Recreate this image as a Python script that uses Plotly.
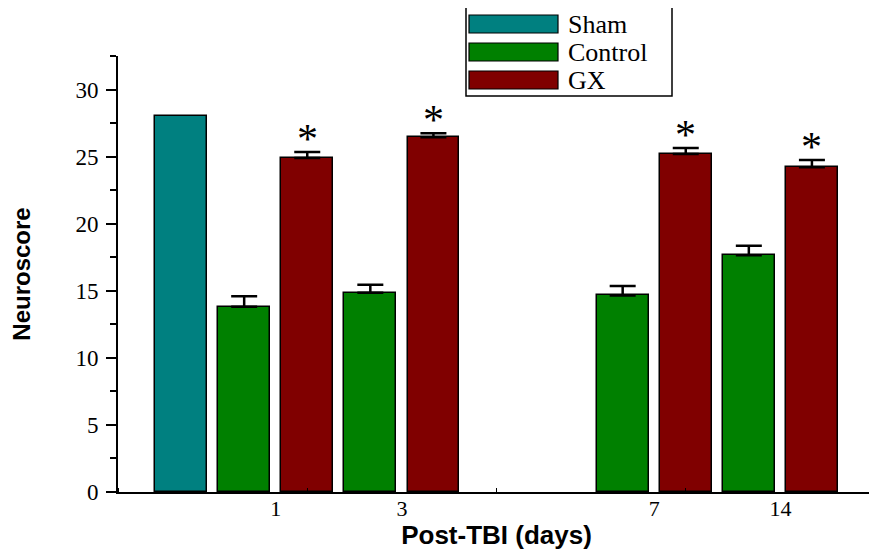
import plotly.graph_objects as go

# ---- data ----
days = ["1", "3", "7", "14"]
sham_mean = [28.0]
control_mean = [13.8, 14.85, 14.65, 17.65]
control_sem = [0.8, 0.6, 0.7, 0.7]
gx_mean = [24.9, 26.45, 25.2, 24.2]
gx_sem = [0.45, 0.3, 0.45, 0.55]
gx_significant = [True, True, True, True]
series_names = ["Sham", "Control", "GX"]
series_colors = ["#008080", "#008000", "#800000"]

# ---- layout of bar slots (sham first, gap between day 3 and day 7) ----
group_slot = [0, 1, 3, 4]
control_x = [1 + 2 * g for g in group_slot]
gx_x = [c + 1 for c in control_x]
tick_x = [c + 0.5 for c in control_x]
sham_x = [0]

# page body has an 8px default margin, so the figure is made 8px smaller
OFF = 8
W, H = 877 - OFF, 550 - OFF
ML, MR, MT, MB = 118 - OFF, 2, 56 - OFF, 58
BAR_W = 0.82

fig = go.Figure()
fig.add_trace(go.Bar(x=sham_x, y=sham_mean, name=series_names[0], width=BAR_W,
                     marker=dict(color=series_colors[0], line=dict(color="black", width=1.5)),
                     showlegend=False))
fig.add_trace(go.Bar(x=control_x, y=control_mean, name=series_names[1], width=BAR_W,
                     marker=dict(color=series_colors[1], line=dict(color="black", width=1.5)),
                     error_y=dict(type="data", array=control_sem, arrayminus=[0] * len(control_sem),
                                  symmetric=False, color="black", thickness=2.5, width=13),
                     showlegend=False))
fig.add_trace(go.Bar(x=gx_x, y=gx_mean, name=series_names[2], width=BAR_W,
                     marker=dict(color=series_colors[2], line=dict(color="black", width=1.5)),
                     error_y=dict(type="data", array=gx_sem, arrayminus=[0] * len(gx_sem),
                                  symmetric=False, color="black", thickness=2.5, width=13),
                     showlegend=False))

annotations = []
for x, m, s, sig in zip(gx_x, gx_mean, gx_sem, gx_significant):
    if sig:
        annotations.append(dict(x=x, y=m + s, xref="x", yref="y", text="*", showarrow=False,
                                yanchor="middle", yshift=13,
                                font=dict(family="Liberation Serif", size=42, color="black")))


def px_x(p):
    return (p - OFF - ML) / (W - ML - MR)


def px_y(p):
    return (H - MB - (p - OFF)) / (H - MT - MB)


shapes = []
# legend box
shapes.append(dict(type="rect", xref="paper", yref="paper",
                   x0=px_x(466), x1=px_x(672), y0=px_y(96), y1=px_y(3),
                   line=dict(color="black", width=1.5), fillcolor="white", layer="above"))
row_centers = [24, 52, 80]
for name, color, cy in zip(series_names, series_colors, row_centers):
    shapes.append(dict(type="rect", xref="paper", yref="paper",
                       x0=px_x(469), x1=px_x(558), y0=px_y(cy + 9), y1=px_y(cy - 9),
                       line=dict(color="black", width=1.2), fillcolor=color, layer="above"))
    annotations.append(dict(x=px_x(566), y=px_y(cy), xref="paper", yref="paper", text=name,
                            showarrow=False, xanchor="left", yanchor="middle",
                            font=dict(family="Liberation Serif", size=26, color="black")))

fig.update_layout(
    width=W, height=H,
    margin=dict(l=ML, r=MR, t=MT, b=MB, autoexpand=False),
    plot_bgcolor="white", paper_bgcolor="white",
    showlegend=False,
    bargap=0,
    annotations=annotations,
    shapes=shapes,
    xaxis=dict(range=[-1, 11], tickmode="array", tickvals=tick_x, ticktext=days,
               ticks="", showgrid=False, zeroline=False,
               showline=True, linecolor="black", linewidth=2,
               ticklabelstandoff=-4,
               tickfont=dict(family="Liberation Serif", size=22, color="black"),
               minor=dict(tickmode="linear", tick0=-1, dtick=3, ticks="inside",
                          ticklen=4, tickcolor="black", tickwidth=1, showgrid=False),
               title=dict(text="<b>Post-TBI (days)</b>", standoff=2,
                          font=dict(family="Liberation Sans", size=26, color="black"))),
    yaxis=dict(range=[0, 32.5], tickmode="linear", tick0=0, dtick=5,
               ticks="outside", ticklen=10, tickwidth=1.5, tickcolor="black",
               showgrid=False, zeroline=False,
               showline=True, linecolor="black", linewidth=2,
               ticklabelstandoff=3,
               tickfont=dict(family="Liberation Serif", size=23, color="black"),
               minor=dict(tickmode="linear", tick0=0, dtick=2.5, ticks="outside",
                          ticklen=6, tickcolor="black", tickwidth=1.5, showgrid=False),
               title=dict(text="<b>Neuroscore</b>", standoff=40,
                          font=dict(family="Liberation Sans", size=24, color="black"))),
)

fig.write_html("out.html")
